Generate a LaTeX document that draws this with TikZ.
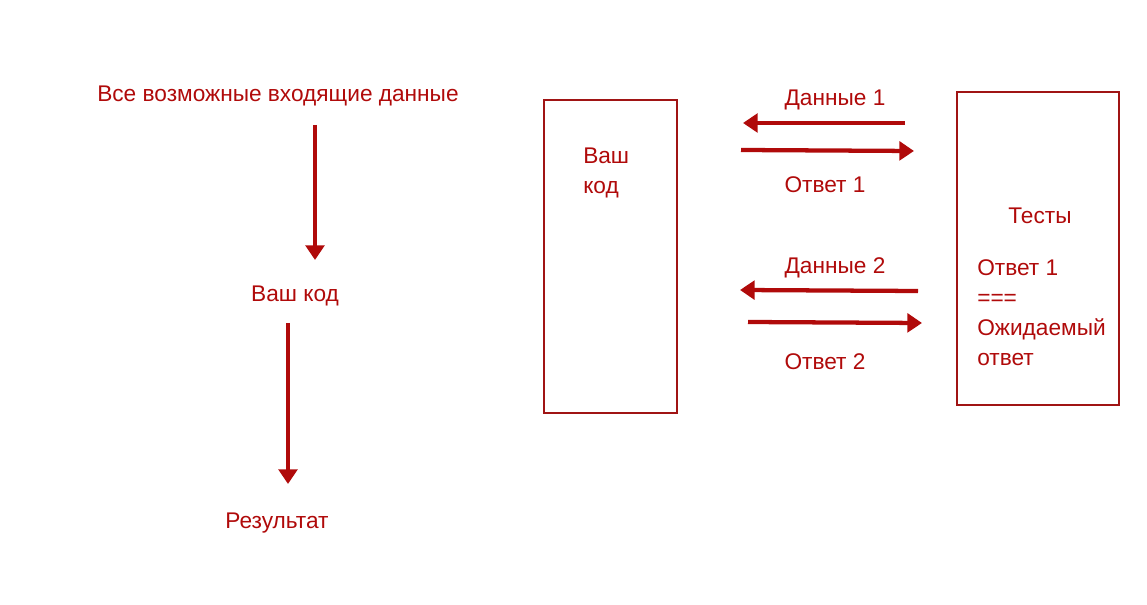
\documentclass[tikz,border=0pt]{standalone}
\usepackage{fontspec}
\setmainfont{Liberation Sans}
\usetikzlibrary{arrows.meta}
\definecolor{dred}{HTML}{B00A0A}
\definecolor{bred}{HTML}{A01414}
\tikzset{
  lbl/.style={text=dred, font=\fontsize{17}{22.5}\selectfont, inner sep=0pt},
  frame/.style={draw=bred, line width=1.5pt},
  flow/.style={draw=dred, line width=3.2pt, -{Triangle[length=11pt,width=14pt]}},
  vflow/.style={draw=dred, line width=3.6pt, -{Triangle[length=11pt,width=14pt]}},
}
\begin{document}
\begin{tikzpicture}[x=0.75pt,y=-0.75pt]
\useasboundingbox (0,0) rectangle (1147,605);
% left column
\node[lbl] (all) at (278,96) {Все возможные входящие данные};
\node[lbl] (code1) at (295,296) {Ваш код};
\node[lbl] (res) at (277,523) {Результат};
\coordinate (a1s) at (315,125); \coordinate (a1e) at (315,260);
\coordinate (a2s) at (288,323); \coordinate (a2e) at (288,484);
\draw[vflow] (a1s) -- (a1e);
\draw[vflow] (a2s) -- (a2e);
% boxes
\node[frame, minimum width=99.75pt, minimum height=234.75pt, inner sep=0pt] (codebox) at (610.5,256.5) {};
\node[lbl, align=left, anchor=base west] (codetxt) at (583,194) {Ваш\\код};
\node[frame, minimum width=121.5pt, minimum height=234.75pt, inner sep=0pt] (testbox) at (1038,248.5) {};
\node[lbl] (tests) at (1040,216) {Тесты};
\node[lbl, align=left, anchor=base west] (cmp) at (977,366) {Ответ 1\\===\\Ожидаемый\\ответ};
% exchange labels
\node[lbl] (d1) at (835,100) {Данные 1};
\node[lbl] (o1) at (825,185) {Ответ 1};
\node[lbl] (d2) at (835,268) {Данные 2};
\node[lbl] (o2) at (825,362) {Ответ 2};
% exchange arrows
\coordinate (l1s) at (905,123); \coordinate (l1e) at (743,123);
\coordinate (r1s) at (741,150); \coordinate (r1e) at (914,151);
\coordinate (l2s) at (918,291); \coordinate (l2e) at (740,290);
\coordinate (r2s) at (748,322); \coordinate (r2e) at (922,323);
\draw[flow] (l1s) -- (l1e);
\draw[flow] (r1s) -- (r1e);
\draw[flow] (l2s) -- (l2e);
\draw[flow] (r2s) -- (r2e);
\end{tikzpicture}
\end{document}
